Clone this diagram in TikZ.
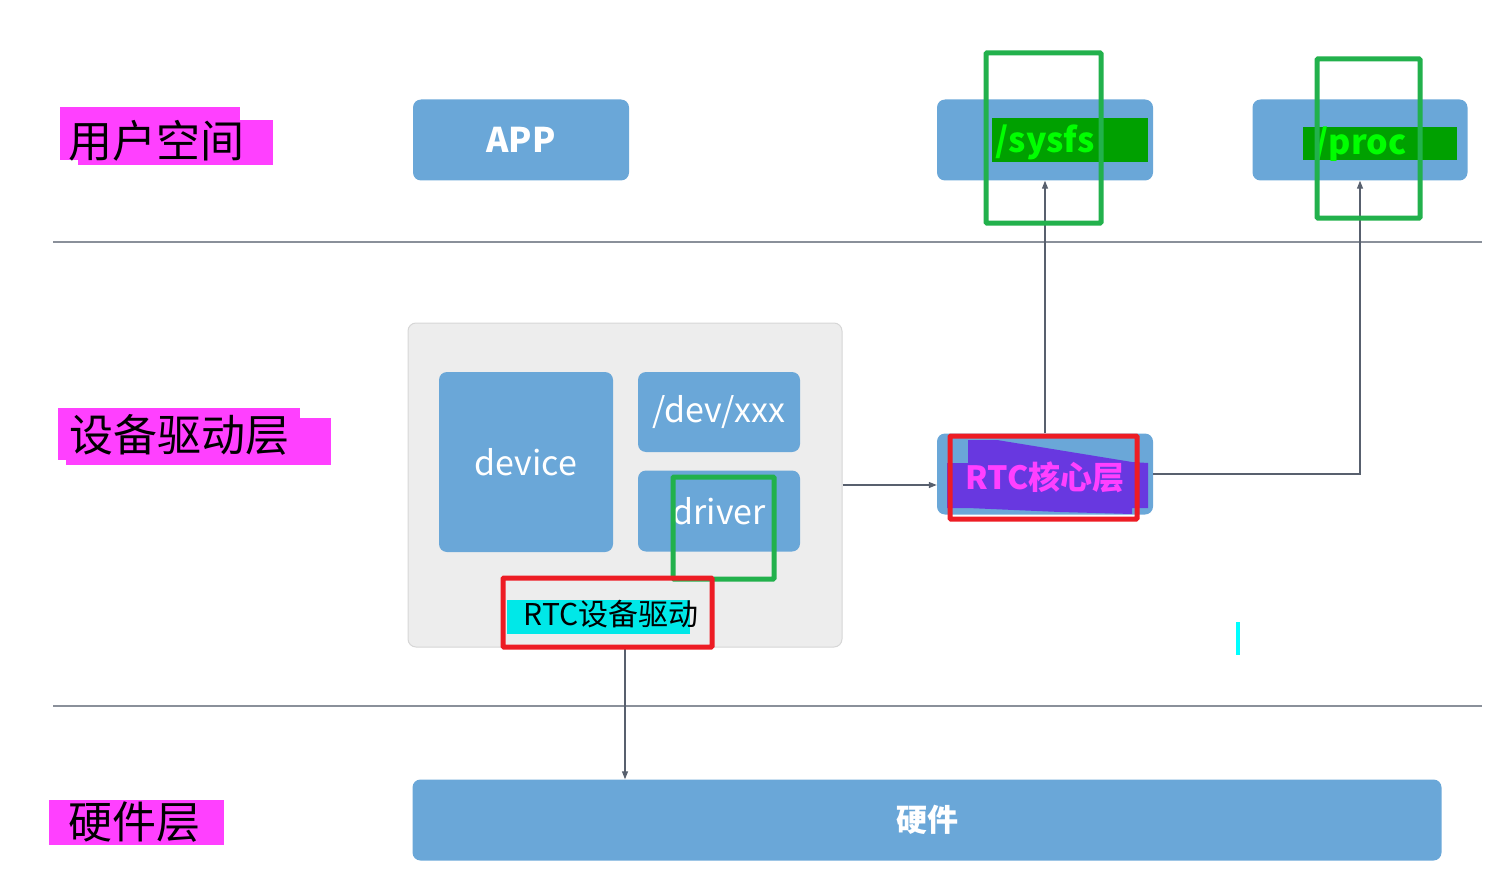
\documentclass[tikz,border=0pt]{standalone}
\usepackage{fontspec}
\setmainfont{Noto Sans CJK SC}
\usetikzlibrary{arrows.meta}
\definecolor{boxblue}{RGB}{106,167,216}
\definecolor{panelgray}{RGB}{237,237,237}
\definecolor{panelline}{RGB}{214,214,214}
\definecolor{linegray}{RGB}{138,144,154}
\definecolor{arrowgray}{RGB}{88,96,110}
\definecolor{hlmagenta}{RGB}{255,64,255}
\definecolor{hldkgreen}{RGB}{0,160,0}
\definecolor{hlgreen}{RGB}{0,255,0}
\definecolor{hlpurple}{RGB}{104,56,224}
\definecolor{hlcyan}{RGB}{0,232,232}
\definecolor{barcyan}{RGB}{0,255,255}
\definecolor{markgreen}{RGB}{34,177,76}
\definecolor{markred}{RGB}{237,28,36}
\begin{document}
\begin{tikzpicture}[x=1pt,y=-1pt,
    blue box/.style={fill=boxblue,rounded corners=8pt,inner sep=0pt,text=white},
    layer text/.style={font=\fontsize{44}{50}\selectfont,inner sep=0pt},
    link/.style={draw=arrowgray,line width=1.2pt,-{Triangle[length=8pt,width=6pt]}},
    markbox/.style={line width=5pt,rounded corners=1pt}]
    \useasboundingbox (0,0) rectangle (1497,880);

    % layer borders
    \coordinate (s1a) at (53,242);
    \coordinate (s1b) at (1482,242);
    \coordinate (s2a) at (53,706);
    \coordinate (s2b) at (1482,706);
    \draw[linegray,line width=1.5pt] (s1a) -- (s1b);
    \draw[linegray,line width=1.5pt] (s2a) -- (s2b);

    % layer names
    \fill[hlmagenta] (60,107) rectangle (240,160);
    \fill[hlmagenta] (78,120) rectangle (273,165);
    \node[layer text] at (156,141) (user) {用户空间};
    \fill[hlmagenta] (58,408) rectangle (300,460);
    \fill[hlmagenta] (66,418) rectangle (331,465);
    \node[layer text] at (179,435) (drvlayer) {设备驱动层};
    \fill[hlmagenta] (49,800) rectangle (224,845);
    \node[layer text] at (134,822) (hwlayer) {硬件层};

    % user space
    \node[blue box,minimum width=216,minimum height=81,font=\fontsize{34}{40}\selectfont\bfseries] at (521,140) (app) {APP};
    \node[blue box,minimum width=216,minimum height=81] at (1045,140) (sysfs) {};
    \node[blue box,minimum width=215,minimum height=81] at (1360,140) (proc) {};
    \fill[hldkgreen] (992,118) rectangle (1148,162);
    \fill[hldkgreen] (1303,127) rectangle (1457,160);
    \node[text=hlgreen,font=\fontsize{34}{40}\selectfont\bfseries] at (1045,142) (sysfstxt) {/sysfs};
    \node[text=hlgreen,font=\fontsize{34}{40}\selectfont\bfseries] at (1361,144) (proctxt) {/proc};

    % RTC driver
    \node[fill=panelgray,draw=panelline,line width=1pt,rounded corners=8pt,minimum width=434,minimum height=324] at (625,485) (panel) {};
    \node[blue box,minimum width=174,minimum height=180,font=\fontsize{34}{40}\selectfont] at (526,462) (device) {device};
    \node[blue box,minimum width=162,minimum height=80,font=\fontsize{34}{40}\selectfont] at (719,412) (devnode) {/dev/xxx};
    \node[blue box,minimum width=162,minimum height=81,font=\fontsize{34}{40}\selectfont] at (719,511) (driver) {driver};
    \fill[hlcyan] (507,600) rectangle (690,634);
    \node[font=\fontsize{30}{36}\selectfont] at (611,614) (drvtxt) {RTC设备驱动};

    % RTC core
    \node[blue box,minimum width=216,minimum height=81] at (1045,474) (core) {};
    \fill[hlpurple] (947,463) -- (968,463) -- (968,440) -- (997,440) -- (1132,462) -- (1148,463)
        -- (1148,508) -- (1132,508) -- (1132,514) -- (1060,512) -- (968,508) -- (947,508) -- cycle;
    \node[text=hlmagenta,font=\fontsize{32}{38}\selectfont\bfseries] at (1045,477) (coretxt) {RTC核心层};

    % hardware
    \node[blue box,minimum width=1029,minimum height=81,font=\fontsize{31}{36}\selectfont\bfseries] at (927,820) (hw) {硬件};

    % connectors
    \path[link] (panel.east) -- (panel.east -| core.west);
    \path[link] (core.north) -- (sysfs.south);
    \path[link] (core.east) -| (proc.south);
    \path[link] (panel.south) -- (panel.south |- hw.north);

    % marks
    \draw[markbox,markgreen] (986,53) rectangle (1101,223);
    \draw[markbox,markgreen] (1317,59) rectangle (1420,218);
    \draw[markbox,markgreen] (673,477) rectangle (774,579);
    \draw[markbox,markred] (503,578) rectangle (712,647);
    \draw[markbox,markred] (950,436) rectangle (1137,519);
    \fill[barcyan] (1236,622) rectangle (1240,655);
\end{tikzpicture}
\end{document}
